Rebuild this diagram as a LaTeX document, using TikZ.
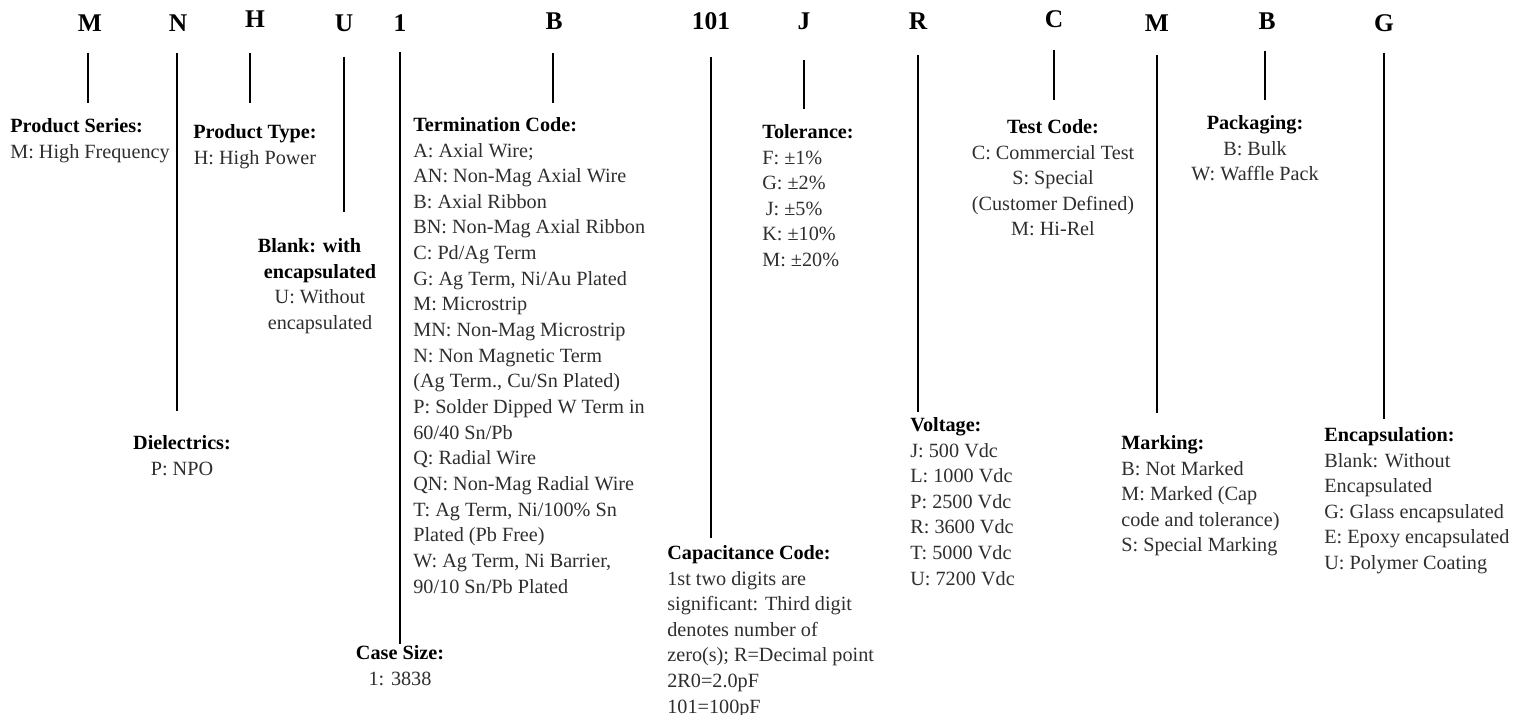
\documentclass[tikz,border=0pt]{standalone}
\usepackage{fontspec}
\setmainfont{Liberation Serif}
\definecolor{txtgray}{HTML}{2E2E2E}
\newcommand{\ttl}[1]{\textcolor{black}{\textbf{#1}}}

\begin{document}
\begin{tikzpicture}[x=0.02cm, y=-0.02cm,
    code/.style={anchor=base, inner sep=0pt, font=\fontsize{14.5}{17}\selectfont\bfseries},
    desc/.style={inner sep=0pt, text=txtgray, font=\fontsize{11.5}{14.6}\selectfont},
    lft/.style={desc, anchor=north west, align=left},
    ctr/.style={desc, anchor=north, align=center},
    stem/.style={line width=1.1pt}]
    \useasboundingbox (0,0) rectangle (1520,715);

    \node (M) [code] at (90,32) {M};
    \node (N) [code] at (178,32) {N};
    \node (H) [code] at (255,28) {H};
    \node (U) [code] at (344,32) {U};
    \node (one) [code] at (400,32) {1};
    \node (B) [code] at (554,30) {B};
    \node (cap) [code] at (711,30) {101};
    \node (J) [code] at (804,30) {J};
    \node (R) [code] at (918,30) {R};
    \node (C) [code] at (1054,28) {C};
    \node (Mk) [code] at (1157,32) {M};
    \node (Bp) [code] at (1267,30) {B};
    \node (G) [code] at (1384,32) {G};

    \node (Ms) [lft] at (10,118) {\ttl{Product Series:}\\M: High Frequency};
    \node (Hs) [ctr] at (255,124) {\ttl{Product Type:}\\H: High Power};
    \node (Us) [ctr] at (320,238) {\ttl{Blank: with}\hspace*{12pt}\\\ttl{encapsulated}\\U: Without\\encapsulated};
    \node (Ns) [ctr] at (182,435) {\ttl{Dielectrics:}\\P: NPO};
    \node (Bs) [lft] at (413,117) {\ttl{Termination Code:}\\A: Axial Wire;\\AN: Non-Mag Axial Wire\\B: Axial Ribbon\\BN: Non-Mag Axial Ribbon\\C: Pd/Ag Term\\G: Ag Term, Ni/Au Plated\\M: Microstrip\\MN: Non-Mag Microstrip\\N: Non Magnetic Term\\(Ag Term., Cu/Sn Plated)\\P: Solder Dipped W Term in\\60/40 Sn/Pb\\Q: Radial Wire\\QN: Non-Mag Radial Wire\\T: Ag Term, Ni/100\% Sn\\Plated (Pb Free)\\W: Ag Term, Ni Barrier,\\90/10 Sn/Pb Plated};
    \node (ones) [ctr] at (400,645) {\ttl{Case Size:}\\1: 3838};
    \node (Js) [lft] at (762,124) {\ttl{Tolerance:}\\F: ±1\%\\G: ±2\%\\\hspace*{2pt}J: ±5\%\\K: ±10\%\\M: ±20\%};
    \node (caps) [lft] at (667,545) {\ttl{Capacitance Code:}\\1st two digits are\\significant: Third digit\\denotes number of\\zero(s); R=Decimal point\\2R0=2.0pF\\101=100pF};
    \node (Rs) [lft] at (910,417) {\ttl{Voltage:}\\J: 500 Vdc\\L: 1000 Vdc\\P: 2500 Vdc\\R: 3600 Vdc\\T: 5000 Vdc\\U: 7200 Vdc};
    \node (Cs) [ctr] at (1053,119) {\ttl{Test Code:}\\C: Commercial Test\\S: Special\\(Customer Defined)\\M: Hi-Rel};
    \node (Mks) [lft] at (1121,435) {\ttl{Marking:}\\B: Not Marked\\M: Marked (Cap\\code and tolerance)\\S: Special Marking};
    \node (Bps) [ctr] at (1255,115) {\ttl{Packaging:}\\B: Bulk\\W: Waffle Pack};
    \node (Gs) [lft] at (1324,427) {\ttl{Encapsulation:}\\Blank: Without\\Encapsulated\\G: Glass encapsulated\\E: Epoxy encapsulated\\U: Polymer Coating};

    \coordinate (Mt) at (88,53);    \coordinate (Mb) at (88,103);
    \coordinate (Nt) at (177,53);   \coordinate (Nb) at (177,411);
    \coordinate (Ht) at (250,53);   \coordinate (Hb) at (250,103);
    \coordinate (Ut) at (344,57);   \coordinate (Ub) at (344,212);
    \coordinate (onet) at (400,52); \coordinate (oneb) at (400,644);
    \coordinate (Bt) at (553,53);   \coordinate (Bb) at (553,103);
    \coordinate (capt) at (711,57); \coordinate (capb) at (711,538);
    \coordinate (Jt) at (804,60);   \coordinate (Jb) at (804,109);
    \coordinate (Rt) at (918,55);   \coordinate (Rb) at (918,412);
    \coordinate (Ct) at (1054,50);  \coordinate (Cb) at (1054,100);
    \coordinate (Mkt) at (1157,55); \coordinate (Mkb) at (1157,413);
    \coordinate (Bpt) at (1265,51); \coordinate (Bpb) at (1265,100);
    \coordinate (Gt) at (1384,53);  \coordinate (Gb) at (1384,419);

    \draw[stem] (Mt) -- (Mb);
    \draw[stem] (Nt) -- (Nb);
    \draw[stem] (Ht) -- (Hb);
    \draw[stem] (Ut) -- (Ub);
    \draw[stem] (onet) -- (oneb);
    \draw[stem] (Bt) -- (Bb);
    \draw[stem] (capt) -- (capb);
    \draw[stem] (Jt) -- (Jb);
    \draw[stem] (Rt) -- (Rb);
    \draw[stem] (Ct) -- (Cb);
    \draw[stem] (Mkt) -- (Mkb);
    \draw[stem] (Bpt) -- (Bpb);
    \draw[stem] (Gt) -- (Gb);
\end{tikzpicture}
\end{document}
